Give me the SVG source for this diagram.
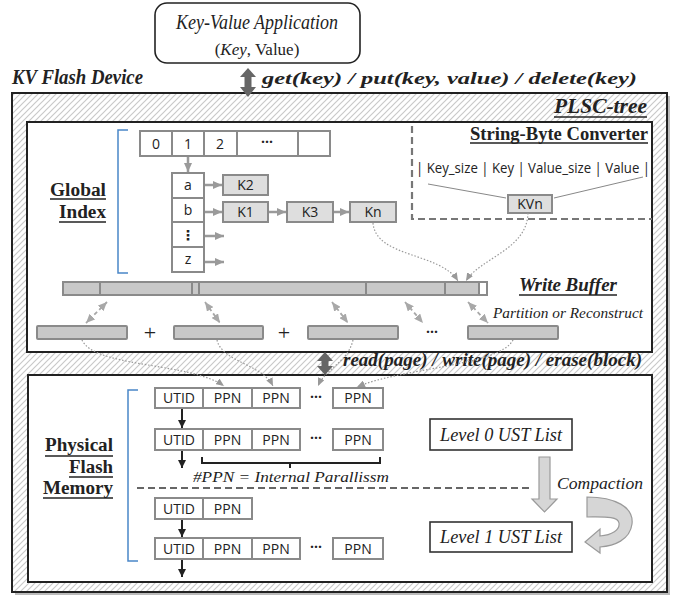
<svg xmlns="http://www.w3.org/2000/svg" width="677" height="595" viewBox="0 0 677 595">
<defs>
<pattern id="hatch" width="6" height="6" patternUnits="userSpaceOnUse">
<path d="M-1,1 l2,-2 M0,6 l6,-6 M5,7 l2,-2" stroke="#c9c9c9" stroke-width="1.2"/>
</pattern>
<marker id="ga" markerUnits="userSpaceOnUse" markerWidth="9" markerHeight="8" refX="9" refY="4" orient="auto"><path d="M0,0 L9,4 L0,8 Z" fill="#9a9a9a"/></marker>
<marker id="da" markerUnits="userSpaceOnUse" markerWidth="9" markerHeight="8" refX="9" refY="4" orient="auto-start-reverse"><path d="M0,0 L9,4 L0,8 Z" fill="#a8a8a8"/></marker>
<marker id="dot" markerUnits="userSpaceOnUse" markerWidth="8" markerHeight="7" refX="8" refY="3.5" orient="auto"><path d="M0,0 L8,3.5 L0,7 Z" fill="#999"/></marker>
<marker id="ba" markerUnits="userSpaceOnUse" markerWidth="8" markerHeight="8" refX="8" refY="4" orient="auto"><path d="M0,0 L8,4 L0,8 Z" fill="#222"/></marker>
</defs>
<style>
.serif{font-family:"Liberation Serif","DejaVu Serif",serif;fill:#222}
.it{font-style:italic}
.bd{font-weight:bold}
.sans{font-family:"Open Sans","DejaVu Sans",sans-serif;font-size:14px;fill:#222;text-anchor:middle}
.cell{fill:#fff;stroke:#8a8a8a;stroke-width:2}
.kbox{fill:#dedede;stroke:#8a8a8a;stroke-width:2}
.bar{fill:#c8c8c8;stroke:#8a8a8a;stroke-width:2}
.ust{fill:#fff;stroke:#333;stroke-width:1.6}
.ul{stroke:#222;stroke-width:1.3}
.garrow{stroke:#9a9a9a;stroke-width:2.5;fill:none;marker-end:url(#ga)}
.dash2{stroke:#a8a8a8;stroke-width:1.8;stroke-dasharray:4 3;fill:none;marker-start:url(#da);marker-end:url(#da)}
.dotted{stroke:#999;stroke-width:1.2;stroke-dasharray:1.5 1.8;fill:none;marker-end:url(#dot)}
.barrow{stroke:#222;stroke-width:2;fill:none;marker-end:url(#ba)}
</style>

<!-- Application node -->
<g id="app">
<rect x="155" y="3" width="205" height="60" rx="12" fill="#fff" stroke="#222" stroke-width="1.6"/>
<text class="serif it" x="257" y="29" font-size="21" text-anchor="middle" textLength="162" lengthAdjust="spacingAndGlyphs">Key-Value Application</text>
<text class="serif" x="257" y="55" font-size="17" text-anchor="middle">(<tspan font-style="italic">Key</tspan>, Value)</text>
</g>

<text class="serif it bd" x="12" y="84" font-size="22" textLength="131" lengthAdjust="spacingAndGlyphs">KV Flash Device</text>

<!-- KV Flash device outer box -->
<g id="device">
<rect x="15" y="96" width="655" height="499" fill="#bbb"/>
<rect x="12" y="93" width="655" height="499" fill="#fff"/>
<rect x="12" y="93" width="655" height="499" fill="url(#hatch)" stroke="#222" stroke-width="2"/>
</g>

<!-- PLSC-tree box -->
<g id="plsc">
<text class="serif it bd" x="554" y="113" font-size="20" textLength="93" lengthAdjust="spacingAndGlyphs">PLSC-tree</text>
<line class="ul" x1="554" y1="117" x2="647" y2="117"/>
<rect x="27" y="122" width="625" height="230" fill="#fff" stroke="#222" stroke-width="2"/>
</g>

<!-- Global index -->
<g id="global-index">
<text class="serif bd" x="106" y="196" font-size="18" text-anchor="end" textLength="56" lengthAdjust="spacingAndGlyphs">Global</text>
<line class="ul" x1="50" y1="199" x2="106" y2="199"/>
<text class="serif bd" x="106" y="218" font-size="18" text-anchor="end" textLength="47" lengthAdjust="spacingAndGlyphs">Index</text>
<line class="ul" x1="59" y1="222" x2="106" y2="222"/>
<path d="M128,130 L118,130 L118,273 L128,273" fill="none" stroke="#4a86c8" stroke-width="1.5"/>
</g>

<g id="array">
<rect class="cell" x="140" y="131" width="32" height="25"/>
<rect class="cell" x="172" y="131" width="32" height="25"/>
<rect class="cell" x="204" y="131" width="33" height="25"/>
<rect class="cell" x="237" y="131" width="61" height="25"/>
<rect class="cell" x="298" y="131" width="32" height="25"/>
<text class="sans" x="156" y="148.5">0</text>
<text class="sans" x="188" y="148.5">1</text>
<text class="sans" x="220" y="148.5">2</text>
<text class="sans" x="267" y="147" font-weight="bold">···</text>
</g>

<g id="buckets">
<rect class="cell" x="172" y="173" width="32" height="25"/>
<rect class="cell" x="172" y="198" width="32" height="24"/>
<rect class="cell" x="172" y="222" width="32" height="25"/>
<rect class="cell" x="172" y="247" width="32" height="25"/>
<text class="sans" x="188" y="190">a</text>
<text class="sans" x="188" y="215">b</text>
<text class="sans" x="188" y="240" font-weight="bold">⋮</text>
<text class="sans" x="188" y="264">z</text>
</g>

<g id="k2"><rect class="kbox" x="223" y="175" width="45" height="20"/><text class="sans" x="245.5" y="190">K2</text></g>
<g id="k1"><rect class="kbox" x="223" y="202" width="45" height="20"/><text class="sans" x="245.5" y="217">K1</text></g>
<g id="k3"><rect class="kbox" x="287" y="202" width="46" height="20"/><text class="sans" x="310" y="217">K3</text></g>
<g id="kn"><rect class="kbox" x="350" y="202" width="46" height="20"/><text class="sans" x="373" y="217">Kn</text></g>

<!-- String-Byte converter -->
<g id="converter">
<path d="M412,126 L412,219 L652,219" fill="none" stroke="#777" stroke-width="2.2" stroke-dasharray="7 4"/>
<text class="serif bd" x="648" y="140" font-size="18" text-anchor="end" textLength="178" lengthAdjust="spacingAndGlyphs">String-Byte Converter</text>
<line class="ul" x1="470" y1="143" x2="648" y2="143"/>
<text class="sans" x="533" y="173" font-size="13.5" textLength="234" lengthAdjust="spacingAndGlyphs">| Key_size | Key | Value_size | Value |</text>
<line x1="428" y1="184" x2="506" y2="198" stroke="#888" stroke-width="1"/>
<line x1="554" y1="198" x2="643" y2="177" stroke="#888" stroke-width="1"/>
</g>
<g id="kvn"><rect class="kbox" x="508" y="195" width="44" height="18"/><text class="sans" x="530" y="209" font-size="13">KVn</text></g>

<!-- Write buffer -->
<g id="write-buffer">
<rect class="bar" x="63" y="282" width="424" height="13"/>
<rect x="480" y="283" width="6" height="11" fill="#fff"/>
<g stroke="#8a8a8a" stroke-width="2">
<line x1="100" y1="282" x2="100" y2="295"/>
<line x1="192" y1="282" x2="192" y2="295"/>
<line x1="199" y1="282" x2="199" y2="295"/>
<line x1="366" y1="282" x2="366" y2="295"/>
<line x1="445" y1="282" x2="445" y2="295"/>
<line x1="479" y1="282" x2="479" y2="295"/>
</g>
<text class="serif it bd" x="519" y="291" font-size="18" textLength="98" lengthAdjust="spacingAndGlyphs">Write Buffer</text>
<line class="ul" x1="519" y1="295" x2="617" y2="295"/>
<text class="serif it" x="493" y="318" font-size="15" textLength="150" lengthAdjust="spacingAndGlyphs">Partition or Reconstruct</text>
</g>

<g id="partitions">
<rect class="bar" x="37" y="326" width="90" height="13" rx="1"/>
<rect class="bar" x="174" y="326" width="89" height="13" rx="1"/>
<rect class="bar" x="308" y="326" width="90" height="13" rx="1"/>
<rect class="bar" x="468" y="326" width="90" height="13" rx="1"/>
<text class="serif" x="150" y="340" font-size="22" text-anchor="middle">+</text>
<text class="serif" x="284" y="340" font-size="22" text-anchor="middle">+</text>
<text class="sans" x="432" y="337" font-weight="bold" font-size="14">···</text>
</g>

<!-- Physical flash memory -->
<g id="flash">
<rect x="28" y="375" width="624" height="207" fill="#fff" stroke="#222" stroke-width="2"/>
<text class="serif bd" x="113" y="451" font-size="18" text-anchor="end" textLength="68" lengthAdjust="spacingAndGlyphs">Physical</text>
<line class="ul" x1="45" y1="456" x2="113" y2="456"/>
<text class="serif bd" x="113" y="473" font-size="18" text-anchor="end" textLength="44" lengthAdjust="spacingAndGlyphs">Flash</text>
<line class="ul" x1="69" y1="477" x2="113" y2="477"/>
<text class="serif bd" x="113" y="494" font-size="18" text-anchor="end" textLength="70" lengthAdjust="spacingAndGlyphs">Memory</text>
<line class="ul" x1="43" y1="498" x2="113" y2="498"/>
<path d="M138,390 L128,390 L128,561 L138,561" fill="none" stroke="#4a86c8" stroke-width="1.5"/>
</g>

<g id="row1">
<rect class="cell" x="155" y="388" width="48" height="20"/>
<rect class="cell" x="203" y="388" width="49" height="20"/>
<rect class="cell" x="252" y="388" width="48" height="20"/>
<rect class="cell" x="333" y="388" width="50" height="20"/>
<text class="sans" x="179" y="403">UTID</text>
<text class="sans" x="227.5" y="403">PPN</text>
<text class="sans" x="276" y="403">PPN</text>
<text class="sans" x="316" y="402" font-weight="bold">···</text>
<text class="sans" x="358" y="403">PPN</text>
</g>
<g id="row2">
<rect class="cell" x="155" y="429" width="48" height="21"/>
<rect class="cell" x="203" y="429" width="49" height="21"/>
<rect class="cell" x="252" y="429" width="48" height="21"/>
<rect class="cell" x="333" y="429" width="50" height="21"/>
<text class="sans" x="179" y="444.5">UTID</text>
<text class="sans" x="227.5" y="444.5">PPN</text>
<text class="sans" x="276" y="444.5">PPN</text>
<text class="sans" x="316" y="443" font-weight="bold">···</text>
<text class="sans" x="358" y="444.5">PPN</text>
</g>
<g id="parallelism">
<path d="M202,457 L202,463 L380,463 L380,457 M290,463 L290,468" fill="none" stroke="#222" stroke-width="2"/>
<text class="serif it" x="193" y="482" font-size="15" textLength="196" lengthAdjust="spacingAndGlyphs">#PPN = Internal Parallissm</text>
<line x1="137" y1="488" x2="532" y2="488" stroke="#666" stroke-width="1.8" stroke-dasharray="7 4"/>
</g>
<g id="row3">
<rect class="cell" x="155" y="498" width="48" height="21"/>
<rect class="cell" x="203" y="498" width="49" height="21"/>
<text class="sans" x="179" y="513.5">UTID</text>
<text class="sans" x="227.5" y="513.5">PPN</text>
</g>
<g id="row4">
<rect class="cell" x="155" y="538" width="48" height="21"/>
<rect class="cell" x="203" y="538" width="49" height="21"/>
<rect class="cell" x="252" y="538" width="48" height="21"/>
<rect class="cell" x="333" y="538" width="50" height="21"/>
<text class="sans" x="179" y="553.5">UTID</text>
<text class="sans" x="227.5" y="553.5">PPN</text>
<text class="sans" x="276" y="553.5">PPN</text>
<text class="sans" x="316" y="552" font-weight="bold">···</text>
<text class="sans" x="358" y="553.5">PPN</text>
</g>

<g id="level0"><rect class="ust" x="430" y="419" width="142" height="31"/><text class="serif it" x="501" y="441" font-size="18" text-anchor="middle" textLength="122" lengthAdjust="spacingAndGlyphs">Level 0 UST List</text></g>
<g id="level1"><rect class="ust" x="430" y="522" width="142" height="30"/><text class="serif it" x="501" y="543" font-size="18" text-anchor="middle" textLength="122" lengthAdjust="spacingAndGlyphs">Level 1 UST List</text></g>
<text class="serif it" x="557" y="489" font-size="17" textLength="86" lengthAdjust="spacingAndGlyphs">Compaction</text>

<!-- Connectors -->
<g id="connectors">
<path d="M248,68 L256,77 L251.5,77 L251.5,87 L256,87 L248,97 L240,87 L244.5,87 L244.5,77 L240,77 Z" fill="#666"/>
<path d="M325,352 L333,361 L328.5,361 L328.5,366 L333,366 L325,375 L317,366 L321.5,366 L321.5,361 L317,361 Z" fill="#666"/>
<text class="serif it bd" x="262" y="84" font-size="17" textLength="375" lengthAdjust="spacingAndGlyphs">get(key) / put(key, value) / delete(key)</text>
<text class="serif it bd" x="343" y="366" font-size="18" textLength="299" lengthAdjust="spacingAndGlyphs">read(page) / write(page) / erase(block)</text>

<line class="garrow" x1="188" y1="157" x2="188" y2="172"/>
<line class="garrow" x1="205" y1="185" x2="222" y2="185"/>
<line class="garrow" x1="205" y1="212" x2="222" y2="212"/>
<line class="garrow" x1="269" y1="212" x2="286" y2="212"/>
<line class="garrow" x1="334" y1="212" x2="349" y2="212"/>
<line class="garrow" x1="205" y1="236" x2="224" y2="236"/>
<line class="garrow" x1="205" y1="262" x2="224" y2="262"/>

<path class="dotted" d="M373,223 C376,258 440,252 458,281"/>
<path class="dotted" d="M528,213 C527,250 480,258 466,281"/>

<line class="dash2" x1="107" y1="302" x2="86" y2="323"/>
<line class="dash2" x1="205" y1="302" x2="220" y2="323"/>
<line class="dash2" x1="332" y1="302" x2="348" y2="323"/>
<line class="dash2" x1="405" y1="302" x2="423" y2="323"/>
<line class="dash2" x1="468" y1="302" x2="488" y2="323"/>

<path class="dotted" d="M82,340 C95,368 190,362 224,386"/>
<path class="dotted" d="M217,340 C222,362 262,364 273,386"/>
<path class="dotted" d="M353,340 C348,362 326,368 318,386"/>
<path class="dotted" d="M513,340 C500,366 400,368 357,387"/>

<line class="barrow" x1="182" y1="409" x2="182" y2="428"/>
<line class="barrow" x1="182" y1="451" x2="182" y2="468"/>
<line class="barrow" x1="182" y1="520" x2="182" y2="537"/>
<line class="barrow" x1="182" y1="560" x2="182" y2="577"/>

<path d="M539,457 L550,457 L550,499 L557,499 L544.5,512 L532,499 L539,499 Z" fill="#d6d6d6" stroke="#9a9a9a" stroke-width="1.2"/>
<path d="M587,497 C615,497 634,507 632,524 C630,540 614,546 600,547 L600,553 L585,542 L600,529 L600,536 C612,535 620,530 619,523 C618,516 604,517 587,517 Z" fill="#d6d6d6" stroke="#9a9a9a" stroke-width="1.2"/>
</g>
</svg>
